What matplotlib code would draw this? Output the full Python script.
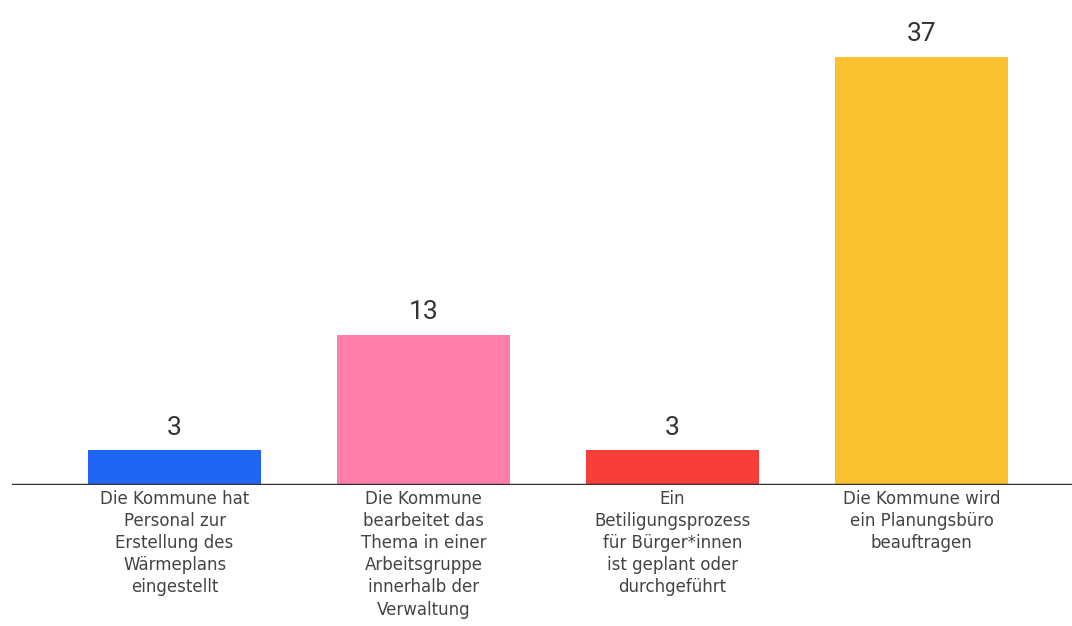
import matplotlib
matplotlib.use("Agg")
import matplotlib.pyplot as plt

categories = [
    "Die Kommune hat\nPersonal zur\nErstellung des\nWärmeplans\neingestellt",
    "Die Kommune\nbearbeitet das\nThema in einer\nArbeitsgruppe\ninnerhalb der\nVerwaltung",
    "Ein\nBetiligungsprozess\nfür Bürger*innen\nist geplant oder\ndurchgeführt",
    "Die Kommune wird\nein Planungsbüro\nbeauftragen",
]
values = [3, 13, 3, 37]
colors = ["#1F66F5", "#FF7DAA", "#F83E3A", "#FCC131"]

fig = plt.figure(figsize=(10.72, 6.26), dpi=100)
ax = fig.add_axes([12 / 1072, 141 / 626, 1060 / 1072, 462.8 / 626])
x = range(len(values))
bars = ax.bar(x, values, width=0.695, color=colors, zorder=2)

for b, v in zip(bars, values):
    ax.text(b.get_x() + b.get_width() / 2, v + 0.9, str(v), ha="center", va="bottom",
            fontsize=19, color="#333333", family="Roboto")

for i, lab in enumerate(categories):
    ax.text(i, -0.4, lab, ha="center", va="top", fontsize=12, color="#444444",
            family="DejaVu Sans", linespacing=1.3)

ax.set_xlim(-0.653, 3.604)
ax.set_ylim(0, 40)
ax.axhline(0, color="#333333", lw=2.5, zorder=3)
for s in ax.spines.values():
    s.set_visible(False)
ax.set_xticks([])
ax.set_yticks([])

fig.savefig("out.png", dpi=100)
